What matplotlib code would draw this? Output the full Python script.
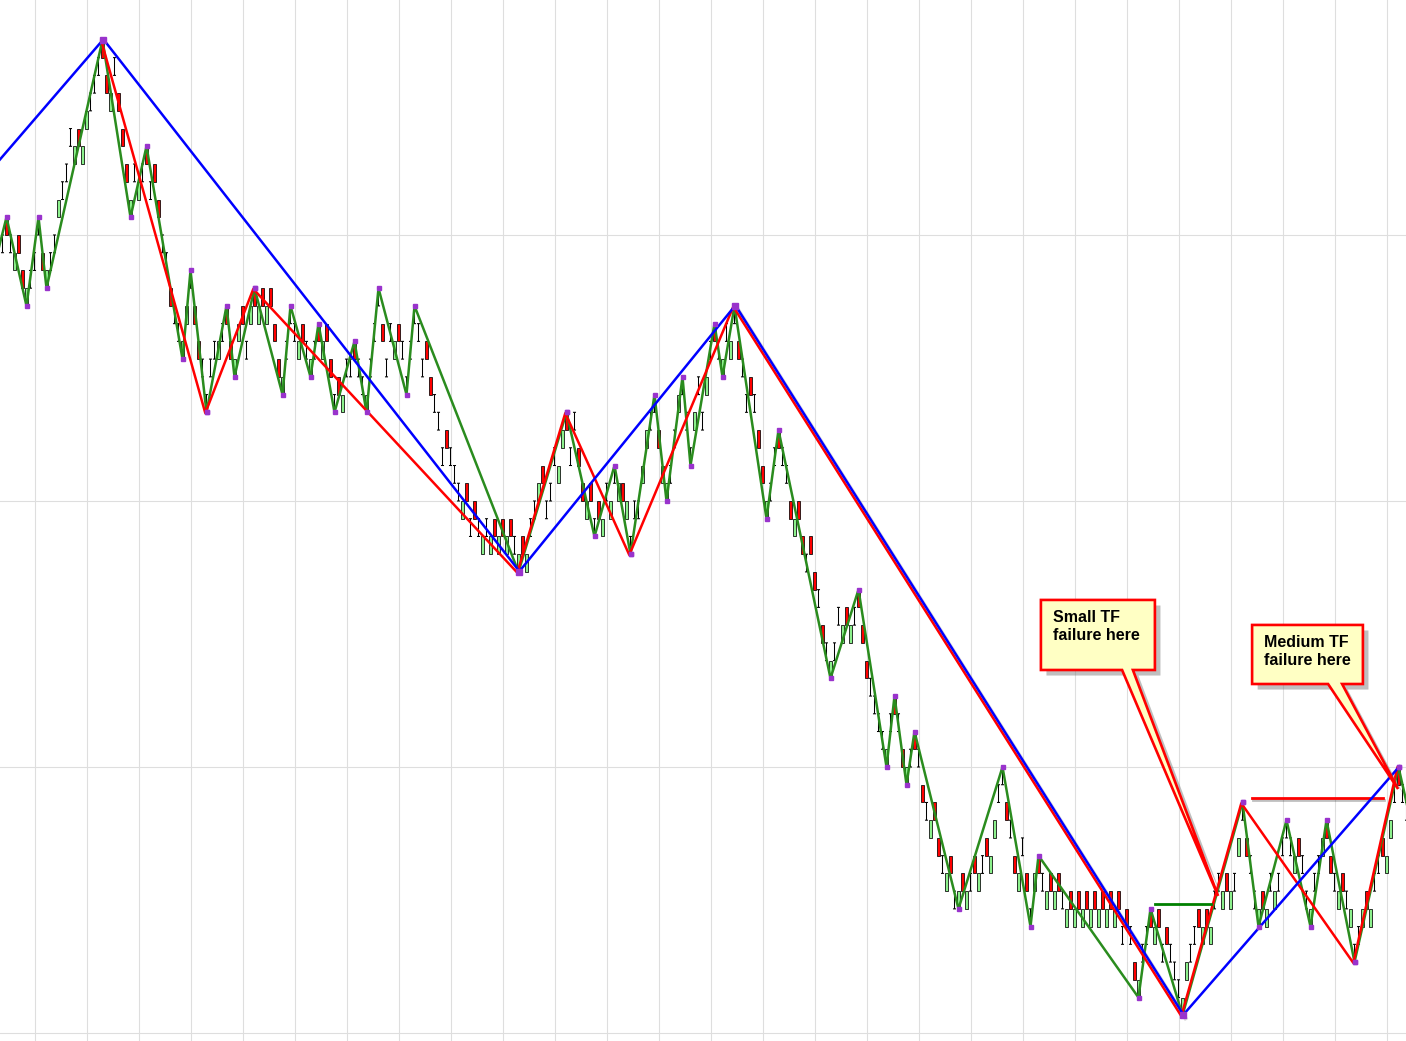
import numpy as np
import matplotlib
matplotlib.use('Agg')
import matplotlib.pyplot as plt
import matplotlib.patheffects as pe
import matplotlib.transforms as mtransforms
from matplotlib.patches import Polygon

# Bar bottoms in brick units (one bar = one brick), one per bar index
brick_levels = [
    44, 45, 44, 43, 44, 42, 41, 42, 43, 45, 43, 42, 43, 44, 46, 47, 48, 50, 49, 50,
    49, 51, 52, 53, 54, 55, 53, 52, 54, 52, 50, 48, 46, 48, 47, 48, 49, 47, 48, 46,
    44, 43, 41, 40, 39, 38, 40, 42, 40, 38, 37, 35, 37, 38, 38, 39, 40, 38, 37, 39,
    40, 38, 40, 41, 40, 41, 40, 41, 39, 37, 36, 38, 40, 39, 38, 39, 38, 37, 38, 39,
    38, 39, 37, 35, 36, 35, 37, 37, 38, 37, 36, 35, 37, 39, 41, 39, 37, 39, 38, 39,
    38, 36, 38, 40, 39, 37, 38, 36, 35, 34, 32, 33, 32, 31, 30, 29, 30, 28, 29, 28,
    27, 28, 27, 28, 27, 28, 27, 28, 27, 26, 27, 26, 28, 29, 30, 31, 29, 30, 32, 31,
    33, 34, 32, 34, 32, 30, 29, 30, 28, 29, 28, 30, 29, 31, 30, 30, 29, 27, 29, 29,
    31, 33, 34, 35, 33, 31, 30, 31, 33, 35, 36, 34, 32, 34, 36, 34, 36, 38, 39, 38,
    37, 39, 38, 40, 38, 37, 35, 36, 35, 33, 31, 29, 30, 32, 33, 32, 31, 29, 28, 29,
    27, 26, 27, 25, 24, 22, 21, 20, 21, 23, 22, 23, 22, 23, 24, 22, 20, 19, 18, 17,
    16, 15, 17, 18, 17, 15, 14, 15, 16, 15, 13, 12, 11, 12, 10, 9, 8, 9, 7, 7,
    8, 7, 8, 9, 8, 9, 10, 9, 11, 13, 14, 12, 11, 9, 8, 10, 8, 6, 8, 9,
    8, 7, 8, 7, 8, 7, 6, 7, 6, 7, 6, 7, 6, 7, 6, 7, 6, 7, 6, 7,
    5, 6, 5, 3, 2, 4, 5, 6, 5, 6, 4, 5, 4, 3, 2, 1, 3, 4, 5, 6,
    5, 6, 5, 7, 8, 7, 8, 7, 8, 10, 12, 10, 9, 7, 6, 7, 6, 8, 7, 8,
    10, 11, 10, 9, 10, 9, 7, 6, 8, 9, 10, 11, 9, 8, 7, 8, 7, 6, 4, 5,
    6, 7, 6, 8, 9, 10, 9, 11, 13, 14, 13, 12,
]
# g = up brick, r = down brick, I = neutral bar
bar_types = (
    "IrIgrrgIII" "rgIIgIIIgr" "ggIIIrrgIr" "rrgIgIrIrr" "IIrIIggIrr" "IIIIgIrrgg"
    "rIgrgrgrrr" "gIIIgrIgIr" "grrIrgIIrI" "IgIIIrIIgr" "IIIIIIrrII" "IrIIIgrIrI"
    "gIgrgrgrIg" "rgIIgrIIIg" "grIIrrgrIr" "gIgIgrgIII" "ggIIrggIIg" "IIIgIIgIrI"
    "gIgIrIIrIr" "rgIIrIIrgr" "rIrrIrIgII" "grgIrrrIII" "IgIrIrgIrI" "rIgrrIgrIg"
    "rgIrgIrggI" "IrIrgIrIgr" "IgrgrIgrgr" "grgrgrgrgr" "IrIrgIIrgr" "IrIIIggIIr"
    "grgIIgrgIg" "IrIIgrgIgI" "IIIgrIIgII" "grrIgrIgII" "grgIIrggIr" "II"
)

# Zigzag pivots (bar index, brick level)
green_idx = [-2, 1, 6, 9, 11, 25, 32, 36, 45, 47, 51, 56, 58, 63, 70, 72, 77, 79,
             83, 88, 91, 94, 101, 103, 129, 141, 148, 153, 157, 163, 166, 170, 172,
             178, 180, 183, 191, 194, 207, 214, 221, 223, 226, 228, 239, 250, 257,
             259, 284, 287, 295, 310, 314, 321, 327, 331, 338, 349, 352]
green_lvl = [43.3, 46, 41, 46, 42, 56, 46, 50, 38, 43, 35, 41, 37, 42, 36, 41, 37, 40,
             35, 39, 35, 42, 36, 41, 26, 35, 28, 32, 27, 36, 30, 37, 32,
             40, 37, 41, 29, 34, 20, 25, 15, 19, 14, 17, 7, 15, 6,
             10, 2, 7, 1, 13, 6, 12, 6, 12, 4, 15, 12]
red_idx = [25, 51, 63, 129, 141, 157, 183, 295, 310, 338, 349]
red_lvl = [56, 35, 42, 26, 35, 27, 41, 1, 13, 4, 15]
blue_idx = [-4, 25, 129, 183, 295, 349]
blue_lvl = [48.4, 56, 26, 41, 1, 15]

# Horizontal level lines: (start, end, level)
green_level = (288, 302, 7.25)
red_level = (312.4, 345.0, 13.25)

callout_texts = ["Small TF\nfailure here", "Medium TF\nfailure here"]

fig = plt.figure(figsize=(14.06, 10.41), dpi=100)
ax = fig.add_axes([0, 0, 1, 1])
ax.set_xlim(-0.625, 350.875)
ax.set_ylim(-0.451, 58.25)

ax.set_xticks(np.arange(8, 351, 13))
ax.set_yticks([0, 15, 30, 45])
ax.grid(color='#DEDEDE', lw=0.8)
ax.set_axisbelow(True)
ax.tick_params(length=0, labelbottom=False, labelleft=False)
for s in ax.spines.values():
    s.set_visible(False)

idx = np.arange(len(brick_levels))
lv = np.array(brick_levels, dtype=float)
types = np.array(list(bar_types))

# Bricks
up = types == 'g'
dn = types == 'r'
nt = types == 'I'
ax.bar(idx[up], 1, bottom=lv[up], width=0.62, color='#8CF08C',
       edgecolor='black', lw=0.55, zorder=2)
ax.bar(idx[dn], 1, bottom=lv[dn], width=0.62, color='#FF0000',
       edgecolor='black', lw=0.55, zorder=2)
# neutral bars drawn as an "I": stem plus short caps on both ends
ax.vlines(idx[nt], lv[nt], lv[nt] + 1, color='black', lw=0.75, zorder=2,
          snap=False)
ax.hlines(lv[nt], idx[nt] - 0.38, idx[nt] + 0.38, color='black', lw=0.75,
          zorder=2, snap=False)
ax.hlines(lv[nt] + 1, idx[nt] - 0.38, idx[nt] + 0.38, color='black', lw=0.75,
          zorder=2, snap=False)

# Zigzags
ax.plot(green_idx, green_lvl, color='#2A8C1E', lw=1.8, zorder=3,
        solid_joinstyle='miter')

# soft shadow under the long red/blue leg
sh = mtransforms.offset_copy(ax.transData, fig, x=3, y=-3, units='dots')
ax.plot(blue_idx[3:5], blue_lvl[3:5], color='0.55', lw=3, alpha=0.3,
        transform=sh, zorder=3)

red_tr = mtransforms.offset_copy(ax.transData, fig, x=-1.2, y=-0.8, units='dots')
blue_tr = mtransforms.offset_copy(ax.transData, fig, x=0.9, y=0.6, units='dots')
ax.plot(red_idx, red_lvl, color='#FF0000', lw=1.8, zorder=4, transform=red_tr)
ax.plot(blue_idx, blue_lvl, color='#0000FF', lw=1.8, zorder=5, transform=blue_tr)

ax.plot([green_level[0], green_level[1]], [green_level[2]] * 2,
        color='#008000', lw=2.0, zorder=4)
ax.plot([red_level[0], red_level[1]], [red_level[2]] * 2,
        color='#FF0000', lw=2.0, zorder=4,
        path_effects=[pe.SimpleLineShadow(offset=(1, -1.5), alpha=0.25),
                      pe.Normal()])

# Pivot dots
dot = '#9933CC'
ax.plot(green_idx[1:-1], green_lvl[1:-1], 's', color=dot, ms=2.4, zorder=6)
ax.plot(red_idx, red_lvl, 's', color=dot, ms=3.4, zorder=6)
ax.plot(blue_idx[1:-1], blue_lvl[1:-1], 's', color=dot, ms=4.8, zorder=7)


# Callouts
def callout(box, base, tip, text, text_xy):
    x0, x1, y0, y1 = box
    verts = [(x0, y0), (x1, y0), (x1, y1), (base[1], y1), tip,
             (base[0], y1), (x0, y1)]
    poly = Polygon(verts, closed=True, facecolor='#FFFFC4', edgecolor='#FF0000',
                   lw=1.9, joinstyle='miter', zorder=10)
    poly.set_path_effects([pe.SimplePatchShadow(offset=(4, -4),
                                                shadow_rgbFace='0.45',
                                                alpha=0.45),
                           pe.Normal()])
    ax.add_patch(poly)
    ax.text(text_xy[0], text_xy[1], text, ha='left', va='center',
            fontsize=11.5, family='Liberation Sans', fontweight='bold',
            linespacing=1.3, color='black', zorder=11)


callout((259.6, 288.1, 24.42, 20.47), (279.9, 282.6), (303.9, 7.73),
        callout_texts[0], (262.6, 22.93))
callout((312.4, 340.1, 23.01, 19.68), (331.4, 334.9), (348.9, 13.76),
        callout_texts[1], (315.4, 21.51))

fig.savefig('out.png', dpi=100, facecolor='white')
